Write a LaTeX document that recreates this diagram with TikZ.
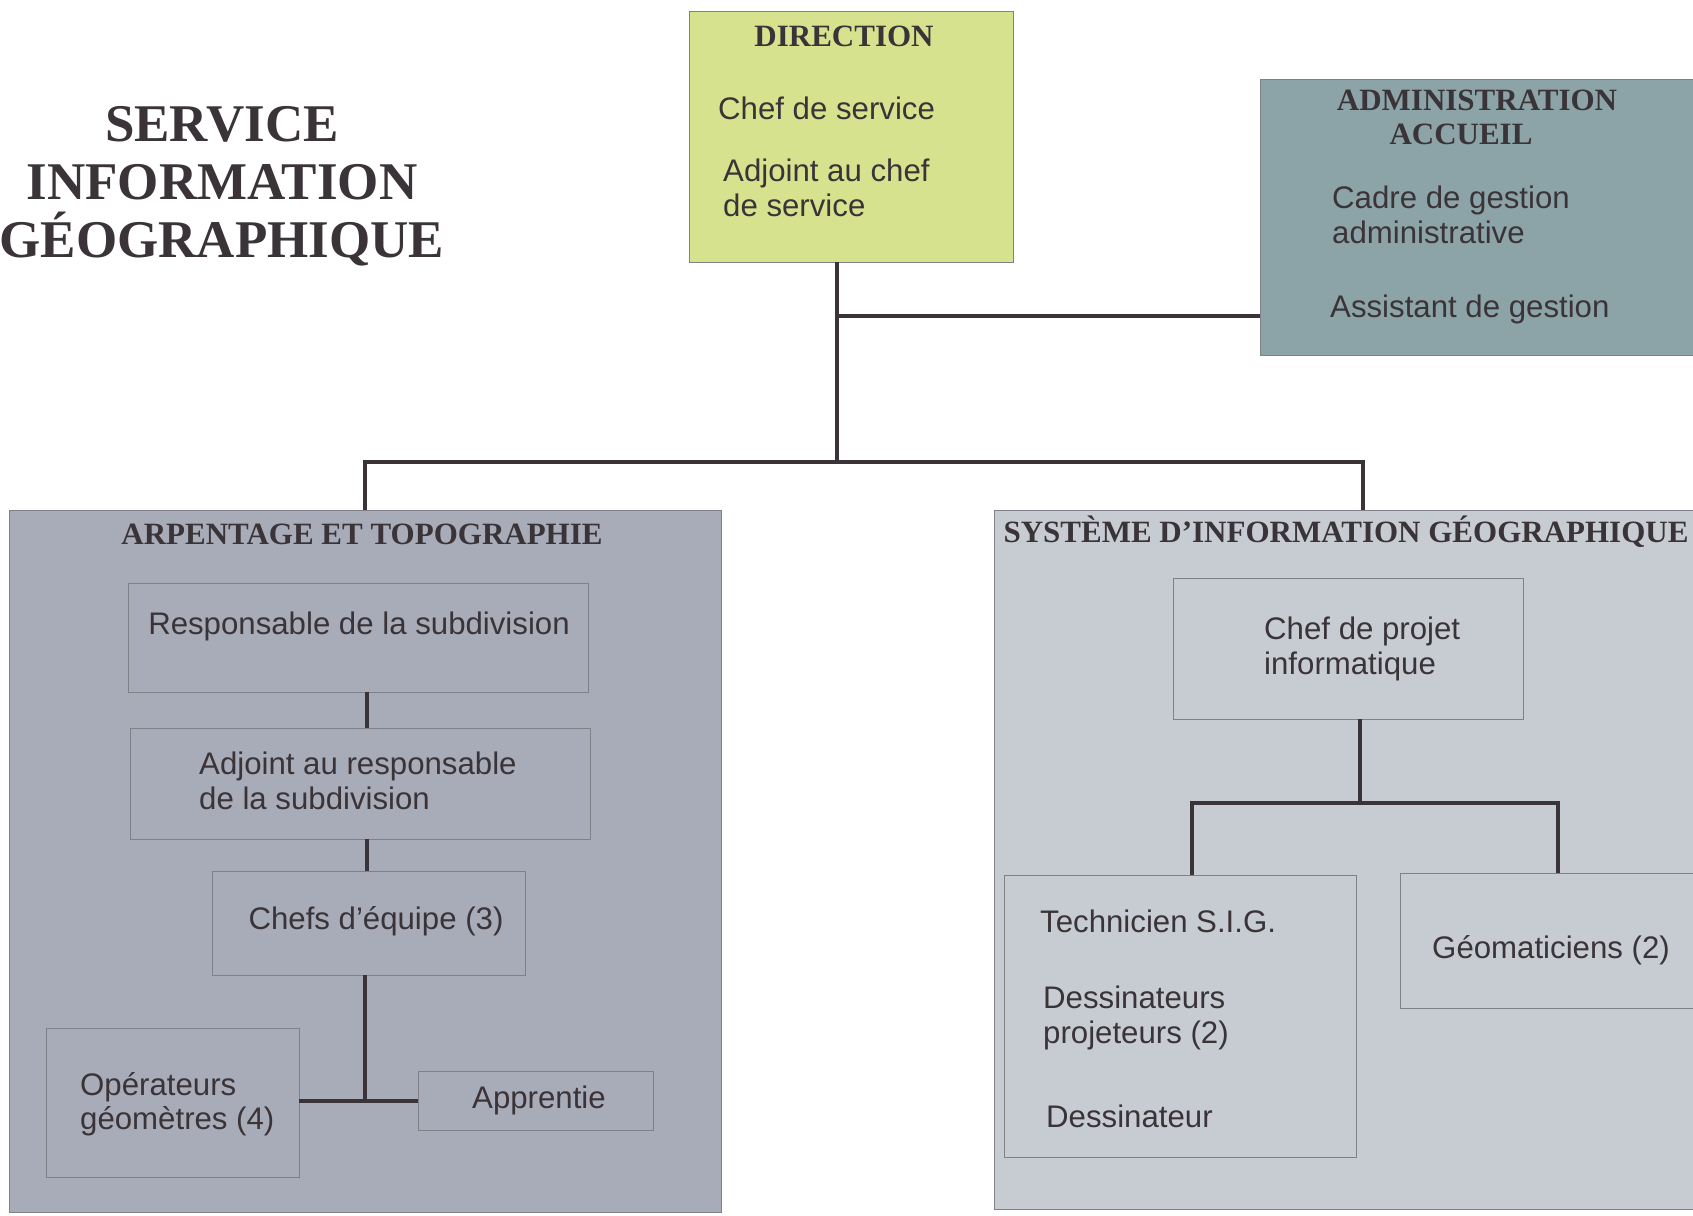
\documentclass[tikz,border=0pt]{standalone}
\usepackage{fontspec}
\setmainfont{Liberation Serif}
\setsansfont{Liberation Sans}
\definecolor{dircol}{RGB}{214,226,142}
\definecolor{admcol}{RGB}{140,164,167}
\definecolor{arpcol}{RGB}{168,171,184}
\definecolor{sigcol}{RGB}{199,204,211}
\definecolor{ink}{RGB}{58,52,56}
\definecolor{edgecol}{RGB}{128,128,136}
\begin{document}
\begin{tikzpicture}[x=1pt,y=-1pt,
  box/.style={draw=edgecol, line width=0.9pt, anchor=north west, inner sep=0pt, outer sep=0pt},
  hd/.style={font=\bfseries\fontsize{31}{34}\selectfont, text=ink, inner sep=0pt, align=center},
  tx/.style={font=\sffamily\fontsize{31.2}{34.5}\selectfont, text=ink, inner sep=0pt, align=left, anchor=west},
  conn/.style={draw=ink, line width=3.2pt},
  connb/.style={draw=ink, line width=3.8pt}]
\useasboundingbox (0,0) rectangle (1693,1215);
\fill[white] (0,0) rectangle (1693,1215);

% title
\node[font=\bfseries\fontsize{53}{58}\selectfont, text=ink, align=center, inner sep=0pt] (title) at (222,186) {SERVICE\\INFORMATION\\GÉOGRAPHIQUE};

% main boxes
\node[box, fill=dircol, minimum width=324pt, minimum height=251pt] (dir) at (689,11) {};
\node[box, fill=admcol, minimum width=440pt, minimum height=276pt] (adm) at (1260,79) {};
\node[box, fill=arpcol, minimum width=712pt, minimum height=702pt] (arp) at (9,510) {};
\node[box, fill=sigcol, minimum width=710pt, minimum height=699pt] (sig) at (994,510) {};

% inner boxes left
\node[box, minimum width=460pt, minimum height=109pt] (resp) at (128,583) {};
\node[box, minimum width=460pt, minimum height=111pt] (adj) at (130,728) {};
\node[box, minimum width=313pt, minimum height=104pt] (chefs) at (212,871) {};
\node[box, minimum width=253pt, minimum height=149pt] (ope) at (46,1028) {};
\node[box, minimum width=235pt, minimum height=59pt] (app) at (418,1071) {};

% inner boxes right
\node[box, minimum width=350pt, minimum height=141pt] (proj) at (1173,578) {};
\node[box, minimum width=352pt, minimum height=282pt] (tech) at (1004,875) {};
\node[box, minimum width=300pt, minimum height=135pt] (geo) at (1400,873) {};

% texts
\node[hd] (tdir) at (844,36) {DIRECTION};
\node[tx] (t1) at (718,108) {Chef de service};
\node[tx] (t2) at (723,188) {Adjoint au chef\\de service};

\node[hd] (tadm) at (1477,100) {ADMINISTRATION};
\node[hd] (tacc) at (1461,134) {ACCUEIL};
\node[tx] (t3) at (1332,215) {Cadre de gestion\\administrative};
\node[tx] (t4) at (1330,309) {Assistant de gestion};

\node[hd] (tarp) at (362,534) {ARPENTAGE ET TOPOGRAPHIE};
\node[tx, anchor=center] (t5) at (359,626) {Responsable de la subdivision};
\node[tx] (t6) at (199,781) {Adjoint au responsable\\de la subdivision};
\node[tx, anchor=center] (t7) at (376,921) {Chefs d’équipe (3)};
\node[tx] (t8) at (80,1104) {Opérateurs\\géomètres (4)};
\node[tx, anchor=center] (t9) at (539,1100) {Apprentie};

\node[hd] (tsig) at (1346,532) {SYSTÈME D’INFORMATION GÉOGRAPHIQUE};
\node[tx] (t10) at (1264,649) {Chef de projet\\informatique};
\node[tx] (t11) at (1040,921) {Technicien S.I.G.};
\node[tx] (t12) at (1043,1018) {Dessinateurs\\projeteurs (2)};
\node[tx] (t13) at (1046,1116) {Dessinateur};
\node[tx, anchor=center] (t14) at (1551,950) {Géomaticiens (2)};

% connectors top
\coordinate (jA) at (837,316);
\coordinate (jB) at (837,462);
\draw[conn] ([xshift=-14pt]dir.south) -- (jB);
\draw[conn] (jA) -- (jA -| adm.west);
\draw[conn] (arp.north) |- (jB) -| ([xshift=14pt]sig.north);

% connectors left
\draw[connb] ([xshift=9pt]resp.south) -- ([xshift=9pt]resp.south |- adj.north);
\draw[connb] ([xshift=7pt]adj.south) -- ([xshift=7pt]adj.south |- chefs.north);
\coordinate (jC) at (365,1101);
\draw[connb] ([xshift=-3.5pt]chefs.south) -- (jC);
\draw[connb] (ope.east |- jC) -- (app.west |- jC);

% connectors right
\coordinate (jD) at (1360,803);
\draw[connb] ([xshift=12pt]proj.south) -- (jD);
\draw[connb] ([xshift=12pt]tech.north) |- (jD) -| ([xshift=8pt]geo.north);
\end{tikzpicture}
\end{document}
